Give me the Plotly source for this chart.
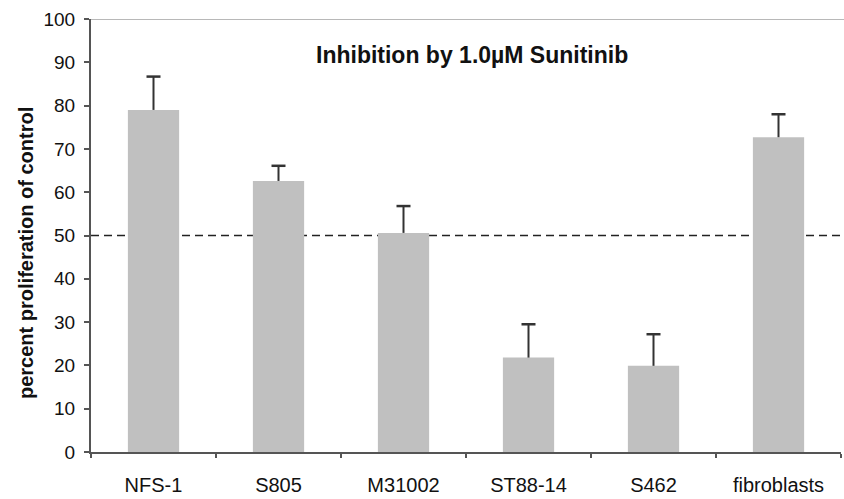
import plotly.graph_objects as go

categories = ["NFS-1", "S805", "M31002", "ST88-14", "S462", "fibroblasts"]
values = [79.0, 62.6, 50.6, 21.8, 19.9, 72.7]
errors = [7.7, 3.5, 6.2, 7.7, 7.3, 5.3]
y_ticks = [0, 10, 20, 30, 40, 50, 60, 70, 80, 90, 100]
threshold = 50
title_text = "Inhibition by 1.0µM Sunitinib"
y_title = "percent proliferation of control"

FONT = "Liberation Sans, Arial, sans-serif"
PLOT_L, PLOT_R = 91, 841
ERR_COLOR = "#333333"

fig = go.Figure()
fig.add_trace(go.Bar(
    x=categories, y=values,
    marker=dict(color="#c0c0c0", line=dict(width=0)),
    width=0.41,
))

# upper-only error bars: stems from bar top to value+error, with a cap at the top
stem_x, stem_y = [], []
for c, v, e in zip(categories, values, errors):
    stem_x += [c, c, None]
    stem_y += [v, v + e, None]
fig.add_trace(go.Scatter(
    x=stem_x, y=stem_y, mode="lines",
    line=dict(color=ERR_COLOR, width=2), hoverinfo="skip",
))
fig.add_trace(go.Scatter(
    x=categories, y=[v + e for v, e in zip(values, errors)], mode="markers",
    marker=dict(symbol="line-ew", size=10, line=dict(color=ERR_COLOR, width=2.5)),
    hoverinfo="skip",
))

fig.add_shape(type="line", xref="paper", x0=0, x1=1, yref="y", y0=threshold, y1=threshold,
              line=dict(color="#222222", width=1.5, dash="8px,5px"), layer="below")
fig.add_shape(type="line", xref="paper", x0=0, x1=1.004, yref="y", y0=100, y1=100,
              line=dict(color="#b8b8b8", width=2), layer="below")

fig.add_annotation(text="<b>" + title_text + "</b>", xref="paper", yref="y",
                   x=(472 - PLOT_L) / (PLOT_R - PLOT_L), y=91.6, showarrow=False,
                   font=dict(family=FONT, size=23, color="#111111"))

fig.add_annotation(text="<b>" + y_title + "</b>", xref="paper", yref="y",
                   x=(26 - PLOT_L) / (PLOT_R - PLOT_L), y=(452 - 253) / 4.33,
                   textangle=-90, showarrow=False, xanchor="center", yanchor="middle",
                   font=dict(family=FONT, size=20, color="#111111"))

fig.update_layout(
    width=844, height=499,
    margin=dict(l=PLOT_L, r=844 - PLOT_R, t=19, b=47),
    paper_bgcolor="white", plot_bgcolor="white",
    showlegend=False,
    font=dict(family=FONT, color="#111111"),
    xaxis=dict(
        range=[-0.5, 5.5], showgrid=False, zeroline=False,
        showline=True, linecolor="#555555", linewidth=2,
        ticks="outside", tickson="boundaries", ticklen=4, tickwidth=1.5, tickcolor="#555555",
        tickfont=dict(size=20, family=FONT, color="#111111"),
        ticklabelstandoff=14,
    ),
    yaxis=dict(
        range=[0, 100], tickvals=y_ticks, showgrid=False, zeroline=False,
        showline=True, linecolor="#555555", linewidth=2,
        ticks="outside", ticklen=5, tickwidth=1.5, tickcolor="#555555",
        tickfont=dict(size=19, family=FONT, color="#111111"),
        ticklabelstandoff=5,
    ),
)

fig.write_html("out.html")
